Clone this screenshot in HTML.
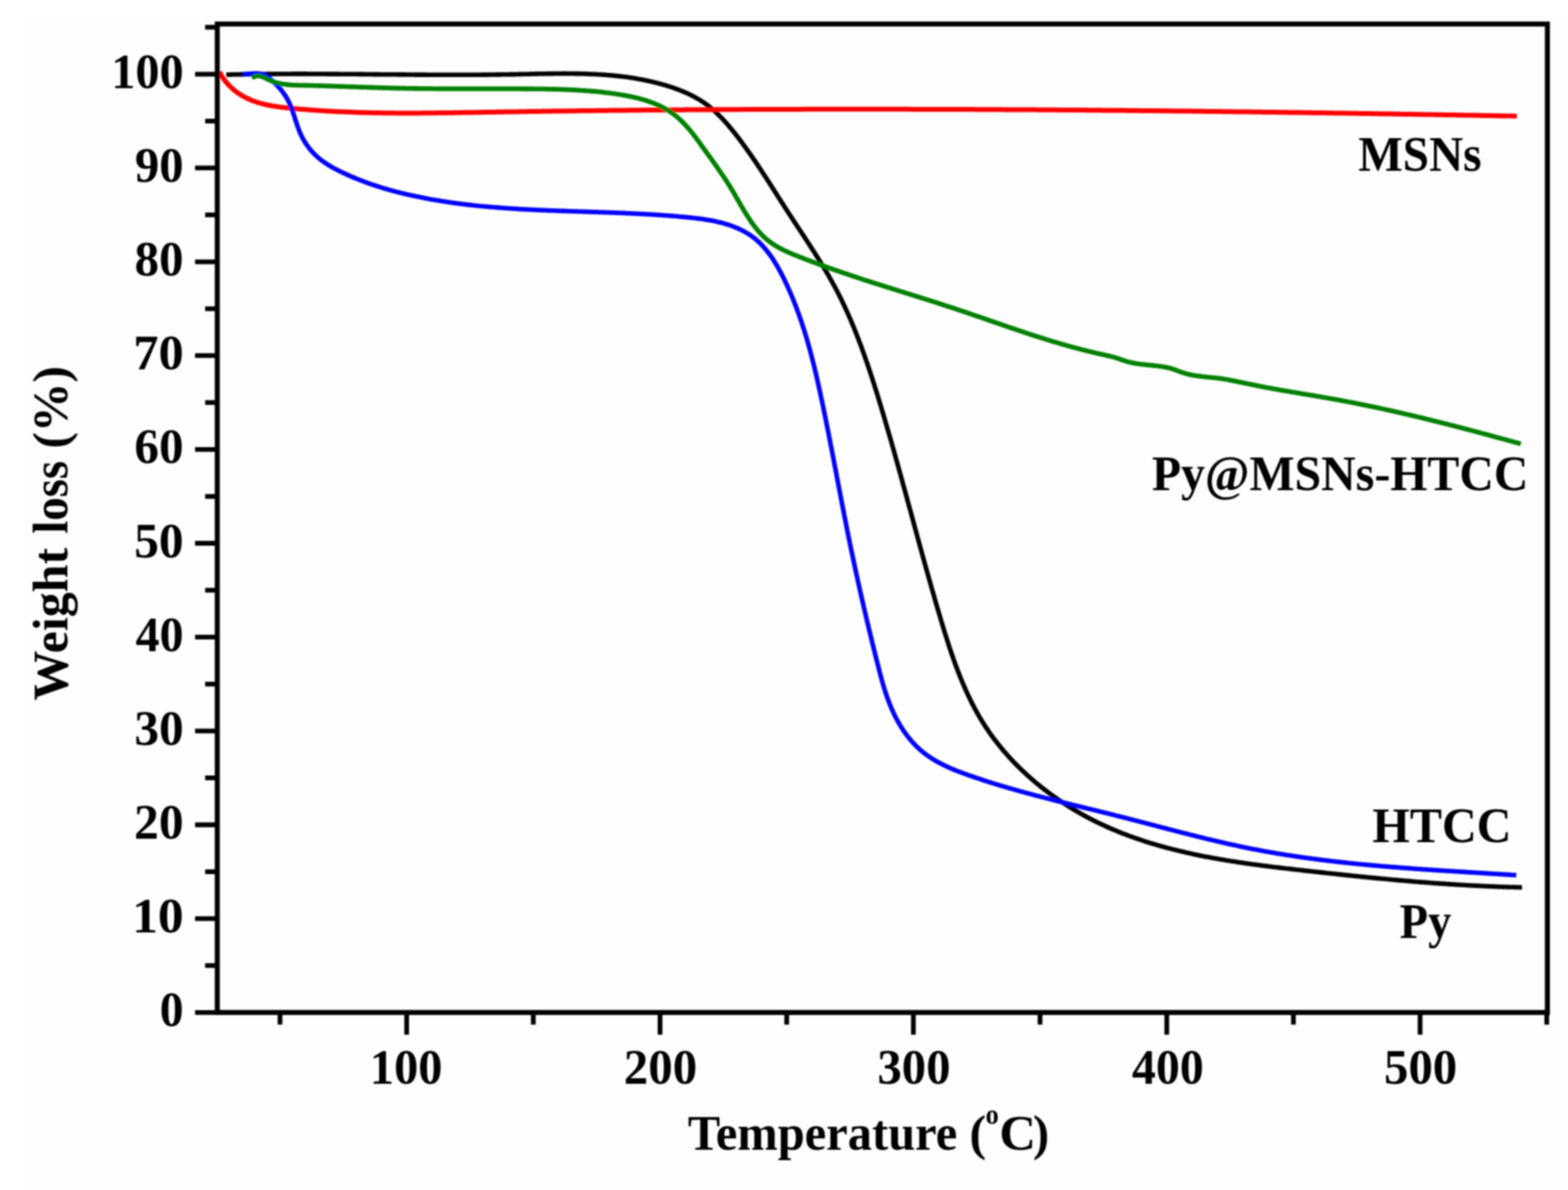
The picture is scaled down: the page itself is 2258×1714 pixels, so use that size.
<!DOCTYPE html>
<html lang="en">
<head>
<meta charset="utf-8">
<title>TGA curves: weight loss vs temperature</title>
<style>
html,body{margin:0;padding:0;background:#fff;}
body{width:2258px;height:1714px;overflow:hidden;}
svg{display:block;}
text{font-family:"Liberation Serif","Times New Roman",serif;font-weight:bold;fill:#000;}
</style>
</head>
<body>
<svg xmlns="http://www.w3.org/2000/svg" width="2258" height="1714" viewBox="0 0 2258 1714">
<defs><filter id="soft" x="0" y="0" width="2258" height="1714" filterUnits="userSpaceOnUse"><feGaussianBlur stdDeviation="0.9"/></filter></defs>
<rect x="0" y="0" width="2258" height="1714" fill="#ffffff"/>
<rect x="36" y="21" width="2222" height="1693" fill="#fefefe"/>
<g filter="url(#soft)">
<g fill="none" stroke-linecap="butt" stroke-linejoin="round">
<path d="M325.9,107.6 L328.5,107.5 L331.0,107.5 L333.5,107.4 L336.0,107.3 L338.5,107.3 L341.0,107.2 L343.5,107.2 L346.0,107.1 L348.5,107.1 L351.0,107.1 L353.5,107.0 L356.1,107.0 L358.6,106.9 L361.1,106.9 L363.6,106.9 L366.1,106.8 L368.6,106.8 L371.1,106.8 L373.6,106.7 L376.1,106.7 L378.6,106.7 L381.1,106.7 L383.6,106.6 L386.1,106.6 L388.6,106.6 L391.1,106.6 L393.6,106.6 L396.1,106.5 L398.6,106.5 L401.1,106.5 L403.6,106.5 L406.1,106.5 L408.6,106.5 L411.1,106.5 L413.6,106.5 L416.1,106.5 L418.6,106.5 L421.1,106.4 L423.6,106.4 L426.0,106.4 L428.5,106.4 L431.0,106.4 L433.5,106.4 L436.0,106.4 L438.5,106.4 L441.0,106.4 L443.5,106.5 L446.0,106.5 L448.5,106.5 L451.0,106.5 L453.5,106.5 L456.0,106.5 L458.5,106.5 L460.9,106.5 L463.4,106.5 L465.9,106.5 L468.4,106.5 L470.9,106.6 L473.4,106.6 L475.9,106.6 L478.4,106.6 L480.9,106.6 L483.4,106.6 L485.8,106.6 L488.3,106.7 L490.8,106.7 L493.3,106.7 L495.8,106.7 L498.3,106.7 L500.8,106.8 L503.3,106.8 L505.8,106.8 L508.2,106.8 L510.7,106.8 L513.2,106.8 L515.7,106.9 L518.2,106.9 L520.7,106.9 L523.2,106.9 L525.7,107.0 L528.2,107.0 L530.6,107.0 L533.1,107.0 L535.6,107.0 L538.1,107.1 L540.6,107.1 L543.1,107.1 L545.6,107.1 L548.1,107.2 L550.5,107.2 L553.0,107.2 L555.5,107.2 L558.0,107.2 L560.5,107.3 L563.0,107.3 L565.5,107.3 L568.0,107.3 L570.5,107.3 L573.0,107.4 L575.4,107.4 L577.9,107.4 L580.4,107.4 L582.9,107.4 L585.4,107.5 L587.9,107.5 L590.4,107.5 L592.9,107.5 L595.4,107.5 L597.9,107.6 L600.4,107.6 L602.9,107.6 L605.3,107.6 L607.8,107.6 L610.3,107.6 L612.8,107.6 L615.3,107.7 L617.8,107.7 L620.3,107.7 L622.8,107.7 L625.3,107.7 L627.8,107.7 L630.3,107.7 L632.8,107.7 L635.3,107.7 L637.8,107.8 L640.3,107.8 L642.8,107.8 L645.3,107.8 L647.8,107.8 L650.3,107.8 L652.8,107.8 L655.3,107.8 L657.8,107.8 L660.3,107.8 L662.8,107.8 L665.3,107.8 L667.8,107.8 L670.3,107.8 L672.8,107.7 L675.3,107.7 L677.8,107.7 L680.3,107.7 L682.8,107.7 L685.3,107.7 L687.8,107.7 L690.3,107.7 L692.8,107.6 L695.3,107.6 L697.8,107.6 L700.3,107.6 L702.9,107.6 L705.4,107.5 L707.9,107.5 L710.4,107.5 L712.9,107.5 L715.4,107.4 L717.9,107.4 L720.4,107.4 L723.0,107.3 L725.5,107.3 L728.0,107.3 L730.5,107.2 L733.0,107.2 L735.5,107.1 L738.0,107.1 L740.6,107.1 L743.1,107.0 L745.6,107.0 L748.1,106.9 L750.6,106.9 L753.2,106.8 L755.7,106.8 L758.2,106.7 L760.7,106.7 L763.3,106.6 L765.8,106.5 L768.3,106.5 L770.8,106.4 L773.4,106.4 L775.9,106.3 L778.4,106.3 L780.9,106.3 L783.4,106.2 L786.0,106.2 L788.5,106.1 L791.0,106.1 L793.5,106.1 L796.1,106.0 L798.6,106.0 L801.1,106.0 L803.6,106.0 L806.1,106.0 L808.7,106.0 L811.2,105.9 L813.7,105.9 L816.2,106.0 L818.7,106.0 L821.2,106.0 L823.7,106.0 L826.3,106.0 L828.8,106.1 L831.3,106.1 L833.8,106.1 L836.3,106.2 L838.8,106.3 L841.3,106.3 L843.8,106.4 L846.3,106.5 L848.8,106.6 L851.3,106.7 L853.8,106.8 L856.3,106.9 L858.8,107.0 L861.2,107.2 L863.7,107.3 L866.2,107.5 L868.7,107.6 L871.2,107.8 L873.7,108.0 L876.1,108.2 L878.6,108.4 L881.1,108.6 L883.5,108.9 L886.0,109.1 L888.5,109.4 L890.9,109.6 L893.4,109.9 L895.9,110.2 L898.3,110.5 L900.8,110.8 L903.2,111.1 L905.6,111.5 L908.1,111.8 L910.5,112.2 L913.0,112.6 L915.4,113.0 L917.8,113.4 L920.2,113.9 L922.7,114.3 L925.1,114.8 L927.5,115.2 L929.9,115.7 L932.3,116.2 L934.7,116.8 L937.1,117.3 L939.5,117.9 L941.9,118.4 L944.3,119.0 L946.7,119.6 L949.1,120.3 L951.4,120.9 L953.8,121.6 L956.2,122.2 L958.5,122.9 L960.9,123.7 L963.2,124.4 L965.6,125.2 L967.9,125.9 L970.3,126.7 L972.6,127.6 L974.9,128.4 L977.2,129.3 L979.6,130.2 L981.8,131.1 L984.1,132.0 L986.4,133.0 L988.6,134.0 L990.9,135.0 L993.1,136.1 L995.3,137.1 L997.5,138.3 L999.7,139.4 L1001.8,140.6 L1004.0,141.8 L1006.1,143.0 L1008.2,144.3 L1010.3,145.6 L1012.3,147.0 L1014.3,148.3 L1016.3,149.7 L1018.3,151.2 L1020.3,152.7 L1022.2,154.2 L1024.1,155.8 L1026.0,157.4 L1027.9,159.0 L1029.7,160.6 L1031.5,162.3 L1033.3,164.0 L1035.1,165.8 L1036.8,167.5 L1038.6,169.3 L1040.3,171.1 L1042.0,172.9 L1043.7,174.8 L1045.4,176.7 L1047.0,178.5 L1048.7,180.4 L1050.3,182.4 L1051.9,184.3 L1053.5,186.2 L1055.1,188.2 L1056.7,190.2 L1058.3,192.1 L1059.8,194.1 L1061.4,196.1 L1062.9,198.1 L1064.4,200.1 L1065.9,202.1 L1067.5,204.1 L1069.0,206.2 L1070.4,208.2 L1071.9,210.2 L1073.4,212.2 L1074.9,214.3 L1076.3,216.3 L1077.8,218.4 L1079.2,220.4 L1080.7,222.5 L1082.1,224.5 L1083.5,226.6 L1084.9,228.7 L1086.4,230.7 L1087.8,232.8 L1089.2,234.9 L1090.6,237.0 L1092.0,239.0 L1093.3,241.1 L1094.7,243.2 L1096.1,245.3 L1097.5,247.4 L1098.8,249.5 L1100.2,251.6 L1101.6,253.7 L1102.9,255.7 L1104.3,257.8 L1105.6,259.9 L1107.0,262.0 L1108.3,264.1 L1109.6,266.2 L1111.0,268.3 L1112.3,270.4 L1113.7,272.5 L1115.0,274.6 L1116.3,276.7 L1117.7,278.8 L1119.0,280.9 L1120.3,283.0 L1121.6,285.0 L1123.0,287.1 L1124.3,289.2 L1125.6,291.3 L1127.0,293.4 L1128.3,295.4 L1129.6,297.5 L1130.9,299.6 L1132.3,301.6 L1133.6,303.7 L1134.9,305.8 L1136.3,307.8 L1137.6,309.9 L1139.0,311.9 L1140.3,314.0 L1141.6,316.0 L1143.0,318.1 L1144.3,320.1 L1145.7,322.1 L1147.0,324.2 L1148.3,326.2 L1149.7,328.2 L1151.0,330.3 L1152.4,332.3 L1153.7,334.3 L1155.0,336.4 L1156.4,338.4 L1157.7,340.4 L1159.0,342.4 L1160.4,344.5 L1161.7,346.5 L1163.0,348.5 L1164.4,350.6 L1165.7,352.6 L1167.0,354.6 L1168.3,356.7 L1169.6,358.7 L1170.9,360.7 L1172.2,362.8 L1173.5,364.8 L1174.8,366.9 L1176.1,368.9 L1177.4,371.0 L1178.7,373.0 L1180.0,375.1 L1181.2,377.1 L1182.5,379.2 L1183.8,381.3 L1185.0,383.3 L1186.3,385.4 L1187.5,387.5 L1188.8,389.6 L1190.0,391.7 L1191.2,393.7 L1192.5,395.8 L1193.7,397.9 L1194.9,400.1 L1196.1,402.2 L1197.3,404.3 L1198.5,406.4 L1199.6,408.6 L1200.8,410.7 L1202.0,412.8 L1203.1,415.0 L1204.3,417.2 L1205.4,419.3 L1206.5,421.5 L1207.7,423.7 L1208.8,425.9 L1209.9,428.1 L1211.0,430.3 L1212.0,432.5 L1213.1,434.7 L1214.2,436.9 L1215.2,439.2 L1216.3,441.4 L1217.3,443.7 L1218.4,445.9 L1219.4,448.2 L1220.4,450.4 L1221.4,452.7 L1222.4,455.0 L1223.4,457.3 L1224.4,459.5 L1225.4,461.8 L1226.4,464.1 L1227.3,466.4 L1228.3,468.8 L1229.3,471.1 L1230.2,473.4 L1231.1,475.7 L1232.1,478.0 L1233.0,480.4 L1233.9,482.7 L1234.8,485.0 L1235.7,487.4 L1236.6,489.7 L1237.5,492.1 L1238.4,494.5 L1239.3,496.8 L1240.2,499.2 L1241.1,501.5 L1241.9,503.9 L1242.8,506.3 L1243.6,508.7 L1244.5,511.1 L1245.3,513.4 L1246.2,515.8 L1247.0,518.2 L1247.8,520.6 L1248.7,523.0 L1249.5,525.4 L1250.3,527.8 L1251.1,530.2 L1251.9,532.6 L1252.7,535.0 L1253.5,537.4 L1254.3,539.8 L1255.1,542.2 L1255.9,544.6 L1256.7,547.1 L1257.4,549.5 L1258.2,551.9 L1259.0,554.3 L1259.7,556.7 L1260.5,559.1 L1261.3,561.6 L1262.0,564.0 L1262.8,566.4 L1263.5,568.8 L1264.3,571.2 L1265.0,573.7 L1265.7,576.1 L1266.5,578.5 L1267.2,580.9 L1267.9,583.3 L1268.7,585.7 L1269.4,588.2 L1270.1,590.6 L1270.8,593.0 L1271.6,595.4 L1272.3,597.8 L1273.0,600.2 L1273.7,602.6 L1274.4,605.1 L1275.1,607.5 L1275.8,609.9 L1276.5,612.3 L1277.2,614.7 L1277.9,617.1 L1278.6,619.5 L1279.3,621.9 L1280.0,624.3 L1280.7,626.7 L1281.4,629.1 L1282.1,631.5 L1282.8,633.9 L1283.5,636.3 L1284.2,638.7 L1284.8,641.1 L1285.5,643.5 L1286.2,645.9 L1286.9,648.3 L1287.6,650.7 L1288.2,653.1 L1288.9,655.5 L1289.6,657.9 L1290.2,660.3 L1290.9,662.7 L1291.6,665.1 L1292.3,667.5 L1292.9,669.9 L1293.6,672.3 L1294.2,674.7 L1294.9,677.1 L1295.6,679.5 L1296.2,681.9 L1296.9,684.2 L1297.6,686.6 L1298.2,689.0 L1298.9,691.4 L1299.5,693.8 L1300.2,696.2 L1300.8,698.6 L1301.5,701.0 L1302.1,703.4 L1302.8,705.8 L1303.5,708.1 L1304.1,710.5 L1304.8,712.9 L1305.4,715.3 L1306.1,717.7 L1306.7,720.1 L1307.4,722.5 L1308.0,724.9 L1308.7,727.3 L1309.3,729.6 L1310.0,732.0 L1310.6,734.4 L1311.3,736.8 L1311.9,739.2 L1312.6,741.6 L1313.2,744.0 L1313.9,746.4 L1314.5,748.7 L1315.2,751.1 L1315.8,753.5 L1316.5,755.9 L1317.1,758.3 L1317.8,760.7 L1318.4,763.1 L1319.1,765.5 L1319.7,767.8 L1320.4,770.2 L1321.0,772.6 L1321.7,775.0 L1322.3,777.4 L1323.0,779.8 L1323.6,782.2 L1324.3,784.6 L1324.9,787.0 L1325.6,789.3 L1326.2,791.7 L1326.9,794.1 L1327.6,796.5 L1328.2,798.9 L1328.9,801.3 L1329.5,803.7 L1330.2,806.1 L1330.9,808.5 L1331.5,810.9 L1332.2,813.3 L1332.9,815.7 L1333.5,818.1 L1334.2,820.5 L1334.9,822.8 L1335.5,825.2 L1336.2,827.6 L1336.9,830.0 L1337.5,832.4 L1338.2,834.8 L1338.9,837.2 L1339.6,839.6 L1340.3,842.0 L1340.9,844.4 L1341.6,846.8 L1342.3,849.2 L1343.0,851.6 L1343.7,854.0 L1344.4,856.4 L1345.1,858.8 L1345.7,861.2 L1346.4,863.6 L1347.1,866.1 L1347.8,868.5 L1348.5,870.9 L1349.2,873.3 L1349.9,875.7 L1350.6,878.1 L1351.4,880.5 L1352.1,882.9 L1352.8,885.3 L1353.5,887.7 L1354.2,890.2 L1354.9,892.6 L1355.6,895.0 L1356.4,897.4 L1357.1,899.8 L1357.8,902.2 L1358.6,904.6 L1359.3,907.1 L1360.0,909.5 L1360.8,911.9 L1361.5,914.3 L1362.3,916.7 L1363.1,919.1 L1363.8,921.5 L1364.6,923.9 L1365.4,926.4 L1366.1,928.8 L1366.9,931.2 L1367.7,933.6 L1368.5,936.0 L1369.3,938.4 L1370.1,940.7 L1370.9,943.1 L1371.8,945.5 L1372.6,947.9 L1373.4,950.3 L1374.3,952.7 L1375.1,955.0 L1376.0,957.4 L1376.9,959.8 L1377.8,962.1 L1378.6,964.5 L1379.5,966.8 L1380.5,969.2 L1381.4,971.5 L1382.3,973.9 L1383.2,976.2 L1384.2,978.5 L1385.1,980.9 L1386.1,983.2 L1387.1,985.5 L1388.1,987.8 L1389.1,990.1 L1390.1,992.4 L1391.1,994.7 L1392.1,996.9 L1393.2,999.2 L1394.2,1001.5 L1395.3,1003.7 L1396.4,1006.0 L1397.5,1008.2 L1398.6,1010.5 L1399.7,1012.7 L1400.8,1014.9 L1402.0,1017.1 L1403.1,1019.3 L1404.3,1021.5 L1405.5,1023.7 L1406.7,1025.9 L1407.9,1028.0 L1409.1,1030.2 L1410.4,1032.4 L1411.6,1034.5 L1412.9,1036.6 L1414.2,1038.7 L1415.5,1040.8 L1416.8,1042.9 L1418.2,1045.0 L1419.5,1047.1 L1420.9,1049.2 L1422.3,1051.2 L1423.7,1053.3 L1425.1,1055.3 L1426.5,1057.4 L1428.0,1059.4 L1429.4,1061.4 L1430.9,1063.4 L1432.4,1065.4 L1433.9,1067.3 L1435.4,1069.3 L1437.0,1071.3 L1438.5,1073.2 L1440.1,1075.1 L1441.6,1077.1 L1443.2,1079.0 L1444.8,1080.9 L1446.4,1082.8 L1448.1,1084.6 L1449.7,1086.5 L1451.4,1088.4 L1453.0,1090.2 L1454.7,1092.0 L1456.4,1093.9 L1458.1,1095.7 L1459.8,1097.5 L1461.5,1099.3 L1463.3,1101.1 L1465.0,1102.8 L1466.8,1104.6 L1468.6,1106.3 L1470.3,1108.1 L1472.1,1109.8 L1474.0,1111.5 L1475.8,1113.2 L1477.6,1114.9 L1479.4,1116.6 L1481.3,1118.3 L1483.2,1119.9 L1485.0,1121.6 L1486.9,1123.2 L1488.8,1124.8 L1490.7,1126.4 L1492.6,1128.1 L1494.6,1129.6 L1496.5,1131.2 L1498.5,1132.8 L1500.4,1134.3 L1502.4,1135.9 L1504.3,1137.4 L1506.3,1138.9 L1508.3,1140.4 L1510.3,1141.9 L1512.3,1143.4 L1514.4,1144.9 L1516.4,1146.4 L1518.4,1147.8 L1520.5,1149.3 L1522.5,1150.7 L1524.6,1152.1 L1526.6,1153.5 L1528.7,1154.9 L1530.8,1156.3 L1532.9,1157.6 L1535.0,1159.0 L1537.1,1160.3 L1539.2,1161.7 L1541.3,1163.0 L1543.5,1164.3 L1545.6,1165.6 L1547.7,1166.9 L1549.9,1168.1 L1552.1,1169.4 L1554.2,1170.6 L1556.4,1171.9 L1558.6,1173.1 L1560.7,1174.3 L1562.9,1175.5 L1565.1,1176.7 L1567.3,1177.8 L1569.5,1179.0 L1571.7,1180.1 L1573.9,1181.3 L1576.2,1182.4 L1578.4,1183.5 L1580.6,1184.6 L1582.9,1185.7 L1585.1,1186.7 L1587.3,1187.8 L1589.6,1188.8 L1591.8,1189.9 L1594.1,1190.9 L1596.4,1191.9 L1598.6,1192.9 L1600.9,1193.9 L1603.2,1194.9 L1605.5,1195.8 L1607.8,1196.8 L1610.0,1197.7 L1612.3,1198.6 L1614.6,1199.6 L1616.9,1200.5 L1619.2,1201.4 L1621.6,1202.2 L1623.9,1203.1 L1626.2,1204.0 L1628.5,1204.8 L1630.9,1205.7 L1633.2,1206.5 L1635.5,1207.3 L1637.9,1208.1 L1640.2,1208.9 L1642.6,1209.7 L1644.9,1210.5 L1647.3,1211.3 L1649.6,1212.1 L1652.0,1212.8 L1654.4,1213.6 L1656.7,1214.3 L1659.1,1215.0 L1661.5,1215.7 L1663.9,1216.4 L1666.2,1217.1 L1668.6,1217.8 L1671.0,1218.5 L1673.4,1219.2 L1675.8,1219.8 L1678.2,1220.5 L1680.6,1221.1 L1683.0,1221.8 L1685.4,1222.4 L1687.8,1223.0 L1690.2,1223.6 L1692.7,1224.2 L1695.1,1224.8 L1697.5,1225.4 L1699.9,1226.0 L1702.4,1226.6 L1704.8,1227.1 L1707.2,1227.7 L1709.7,1228.3 L1712.1,1228.8 L1714.5,1229.3 L1717.0,1229.9 L1719.4,1230.4 L1721.9,1230.9 L1724.3,1231.4 L1726.8,1231.9 L1729.2,1232.4 L1731.7,1232.9 L1734.1,1233.4 L1736.6,1233.9 L1739.0,1234.3 L1741.5,1234.8 L1744.0,1235.3 L1746.4,1235.7 L1748.9,1236.2 L1751.4,1236.6 L1753.8,1237.1 L1756.3,1237.5 L1758.8,1237.9 L1761.3,1238.3 L1763.7,1238.7 L1766.2,1239.2 L1768.7,1239.6 L1771.2,1240.0 L1773.7,1240.4 L1776.2,1240.8 L1778.6,1241.1 L1781.1,1241.5 L1783.6,1241.9 L1786.1,1242.3 L1788.6,1242.6 L1791.1,1243.0 L1793.6,1243.4 L1796.1,1243.7 L1798.6,1244.1 L1801.1,1244.4 L1803.5,1244.8 L1806.0,1245.1 L1808.5,1245.4 L1811.0,1245.8 L1813.5,1246.1 L1816.0,1246.4 L1818.5,1246.8 L1821.0,1247.1 L1823.5,1247.4 L1826.0,1247.7 L1828.5,1248.0 L1831.0,1248.4 L1833.5,1248.7 L1836.0,1249.0 L1838.5,1249.3 L1841.0,1249.6 L1843.5,1249.9 L1846.0,1250.2 L1848.5,1250.5 L1851.0,1250.8 L1853.5,1251.0 L1856.0,1251.3 L1858.5,1251.6 L1861.0,1251.9 L1863.5,1252.2 L1866.0,1252.5 L1868.5,1252.8 L1871.0,1253.0 L1873.5,1253.3 L1876.0,1253.6 L1878.4,1253.9 L1880.9,1254.2 L1883.4,1254.4 L1885.9,1254.7 L1888.4,1255.0 L1890.9,1255.3 L1893.4,1255.6 L1895.9,1255.8 L1898.4,1256.1 L1900.8,1256.4 L1903.3,1256.6 L1905.8,1256.9 L1908.3,1257.2 L1910.8,1257.5 L1913.3,1257.7 L1915.7,1258.0 L1918.2,1258.3 L1920.7,1258.5 L1923.2,1258.8 L1925.7,1259.1 L1928.1,1259.3 L1930.6,1259.6 L1933.1,1259.9 L1935.6,1260.1 L1938.1,1260.4 L1940.5,1260.6 L1943.0,1260.9 L1945.5,1261.2 L1948.0,1261.4 L1950.4,1261.7 L1952.9,1261.9 L1955.4,1262.2 L1957.9,1262.4 L1960.3,1262.7 L1962.8,1262.9 L1965.3,1263.2 L1967.7,1263.4 L1970.2,1263.7 L1972.7,1263.9 L1975.2,1264.2 L1977.6,1264.4 L1980.1,1264.6 L1982.6,1264.9 L1985.0,1265.1 L1987.5,1265.3 L1990.0,1265.6 L1992.5,1265.8 L1994.9,1266.0 L1997.4,1266.3 L1999.9,1266.5 L2002.3,1266.7 L2004.8,1267.0 L2007.3,1267.2 L2009.8,1267.4 L2012.2,1267.6 L2014.7,1267.9 L2017.2,1268.1 L2019.6,1268.3 L2022.1,1268.5 L2024.6,1268.7 L2027.1,1268.9 L2029.5,1269.1 L2032.0,1269.3 L2034.5,1269.6 L2037.0,1269.8 L2039.4,1270.0 L2041.9,1270.2 L2044.4,1270.4 L2046.9,1270.6 L2049.3,1270.8 L2051.8,1270.9 L2054.3,1271.1 L2056.8,1271.3 L2059.2,1271.5 L2061.7,1271.7 L2064.2,1271.9 L2066.7,1272.1 L2069.2,1272.2 L2071.6,1272.4 L2074.1,1272.6 L2076.6,1272.8 L2079.1,1272.9 L2081.6,1273.1 L2084.0,1273.3 L2086.5,1273.4 L2089.0,1273.6 L2091.5,1273.8 L2094.0,1273.9 L2096.5,1274.1 L2099.0,1274.2 L2101.4,1274.4 L2103.9,1274.5 L2106.4,1274.7 L2108.9,1274.8 L2111.4,1275.0 L2113.9,1275.1 L2116.4,1275.3 L2118.9,1275.4 L2121.4,1275.5 L2123.9,1275.6 L2126.4,1275.8 L2128.9,1275.9 L2131.4,1276.0 L2133.9,1276.1 L2136.4,1276.3 L2138.9,1276.4 L2141.4,1276.5 L2143.9,1276.6 L2146.4,1276.7 L2148.9,1276.8 L2151.4,1276.9 L2153.9,1277.0 L2156.4,1277.1 L2158.9,1277.2 L2161.4,1277.3 L2164.0,1277.4 L2166.5,1277.5 L2169.0,1277.5 L2171.5,1277.6 L2174.0,1277.7 L2176.5,1277.8 L2179.1,1277.8 L2181.6,1277.9 L2184.1,1278.0 L2186.6,1278.0 L2189.2,1278.1 L2191.7,1278.1" stroke="#000000" stroke-width="6.6"/>
<path d="M315.8,103.4 L317.1,105.8 L318.5,108.1 L319.9,110.4 L321.3,112.5 L322.8,114.6 L324.4,116.7 L326.0,118.7 L327.7,120.6 L329.4,122.5 L331.1,124.3 L332.9,126.0 L334.8,127.7 L336.6,129.3 L338.6,130.9 L340.5,132.4 L342.5,133.8 L344.6,135.2 L346.6,136.5 L348.7,137.8 L350.9,139.0 L353.0,140.2 L355.2,141.3 L357.4,142.3 L359.6,143.3 L361.9,144.3 L364.2,145.2 L366.5,146.0 L368.8,146.8 L371.1,147.6 L373.5,148.3 L375.8,148.9 L378.2,149.6 L380.6,150.2 L383.0,150.7 L385.4,151.2 L387.9,151.7 L390.3,152.2 L392.8,152.6 L395.3,153.0 L397.7,153.4 L400.2,153.8 L402.7,154.1 L405.2,154.4 L407.7,154.7 L410.2,155.0 L412.7,155.3 L415.2,155.5 L417.8,155.8 L420.3,156.0 L422.8,156.3 L425.3,156.5 L427.8,156.7 L430.3,156.9 L432.8,157.2 L435.4,157.4 L437.9,157.6 L440.4,157.8 L442.9,158.0 L445.4,158.2 L447.9,158.4 L450.4,158.6 L452.9,158.7 L455.4,158.9 L458.0,159.1 L460.5,159.3 L463.0,159.4 L465.5,159.6 L468.0,159.7 L470.5,159.9 L473.0,160.0 L475.5,160.2 L478.0,160.3 L480.5,160.4 L483.0,160.6 L485.5,160.7 L488.0,160.8 L490.6,160.9 L493.1,161.0 L495.6,161.1 L498.1,161.2 L500.6,161.3 L503.1,161.4 L505.6,161.5 L508.1,161.6 L510.6,161.7 L513.1,161.8 L515.6,161.9 L518.1,161.9 L520.6,162.0 L523.1,162.1 L525.6,162.2 L528.1,162.2 L530.6,162.3 L533.1,162.3 L535.6,162.4 L538.1,162.4 L540.6,162.5 L543.1,162.5 L545.6,162.6 L548.1,162.6 L550.6,162.7 L553.1,162.7 L555.6,162.7 L558.1,162.7 L560.6,162.8 L563.1,162.8 L565.6,162.8 L568.1,162.8 L570.6,162.9 L573.1,162.9 L575.6,162.9 L578.1,162.9 L580.6,162.9 L583.1,162.9 L585.6,162.9 L588.1,162.9 L590.6,162.9 L593.1,162.9 L595.6,162.9 L598.1,162.9 L600.6,162.9 L603.0,162.9 L605.5,162.9 L608.0,162.8 L610.5,162.8 L613.0,162.8 L615.5,162.8 L618.0,162.8 L620.5,162.7 L623.0,162.7 L625.5,162.7 L628.0,162.7 L630.5,162.6 L633.0,162.6 L635.5,162.6 L638.0,162.6 L640.5,162.5 L643.0,162.5 L645.5,162.5 L648.0,162.4 L650.5,162.4 L652.9,162.4 L655.4,162.3 L657.9,162.3 L660.4,162.2 L662.9,162.2 L665.4,162.2 L667.9,162.1 L670.4,162.1 L672.9,162.0 L675.4,162.0 L677.9,162.0 L680.4,161.9 L682.9,161.9 L685.4,161.8 L687.9,161.8 L690.4,161.7 L692.8,161.7 L695.3,161.7 L697.8,161.6 L700.3,161.6 L702.8,161.5 L705.3,161.5 L707.8,161.5 L710.3,161.4 L712.8,161.4 L715.3,161.3 L717.8,161.3 L720.3,161.2 L722.8,161.2 L725.3,161.2 L727.8,161.1 L730.3,161.1 L732.8,161.0 L735.3,161.0 L737.7,161.0 L740.2,160.9 L742.7,160.9 L745.2,160.9 L747.7,160.8 L750.2,160.8 L752.7,160.7 L755.2,160.7 L757.7,160.7 L760.2,160.6 L762.7,160.6 L765.2,160.6 L767.7,160.5 L770.2,160.5 L772.7,160.4 L775.2,160.4 L777.7,160.4 L780.2,160.3 L782.7,160.3 L785.2,160.3 L787.6,160.2 L790.1,160.2 L792.6,160.2 L795.1,160.1 L797.6,160.1 L800.1,160.1 L802.6,160.0 L805.1,160.0 L807.6,160.0 L810.1,159.9 L812.6,159.9 L815.1,159.9 L817.6,159.8 L820.1,159.8 L822.6,159.8 L825.1,159.7 L827.6,159.7 L830.1,159.7 L832.6,159.6 L835.1,159.6 L837.6,159.6 L840.1,159.6 L842.6,159.5 L845.1,159.5 L847.5,159.5 L850.0,159.4 L852.5,159.4 L855.0,159.4 L857.5,159.3 L860.0,159.3 L862.5,159.3 L865.0,159.3 L867.5,159.2 L870.0,159.2 L872.5,159.2 L875.0,159.2 L877.5,159.1 L880.0,159.1 L882.5,159.1 L885.0,159.0 L887.5,159.0 L890.0,159.0 L892.5,159.0 L895.0,158.9 L897.5,158.9 L900.0,158.9 L902.5,158.9 L905.0,158.8 L907.5,158.8 L910.0,158.8 L912.5,158.8 L915.0,158.7 L917.5,158.7 L919.9,158.7 L922.4,158.7 L924.9,158.6 L927.4,158.6 L929.9,158.6 L932.4,158.6 L934.9,158.6 L937.4,158.5 L939.9,158.5 L942.4,158.5 L944.9,158.5 L947.4,158.5 L949.9,158.4 L952.4,158.4 L954.9,158.4 L957.4,158.4 L959.9,158.3 L962.4,158.3 L964.9,158.3 L967.4,158.3 L969.9,158.3 L972.4,158.2 L974.9,158.2 L977.4,158.2 L979.9,158.2 L982.4,158.2 L984.9,158.2 L987.4,158.1 L989.9,158.1 L992.4,158.1 L994.9,158.1 L997.4,158.1 L999.9,158.0 L1002.4,158.0 L1004.9,158.0 L1007.4,158.0 L1009.9,158.0 L1012.4,158.0 L1014.9,157.9 L1017.4,157.9 L1019.9,157.9 L1022.3,157.9 L1024.8,157.9 L1027.3,157.9 L1029.8,157.9 L1032.3,157.8 L1034.8,157.8 L1037.3,157.8 L1039.8,157.8 L1042.3,157.8 L1044.8,157.8 L1047.3,157.8 L1049.8,157.7 L1052.3,157.7 L1054.8,157.7 L1057.3,157.7 L1059.8,157.7 L1062.3,157.7 L1064.8,157.7 L1067.3,157.7 L1069.8,157.6 L1072.3,157.6 L1074.8,157.6 L1077.3,157.6 L1079.8,157.6 L1082.3,157.6 L1084.8,157.6 L1087.3,157.6 L1089.8,157.6 L1092.3,157.5 L1094.8,157.5 L1097.3,157.5 L1099.8,157.5 L1102.3,157.5 L1104.8,157.5 L1107.3,157.5 L1109.8,157.5 L1112.3,157.5 L1114.8,157.5 L1117.3,157.5 L1119.8,157.4 L1122.3,157.4 L1124.8,157.4 L1127.3,157.4 L1129.8,157.4 L1132.3,157.4 L1134.8,157.4 L1137.3,157.4 L1139.8,157.4 L1142.3,157.4 L1144.8,157.4 L1147.3,157.4 L1149.8,157.4 L1152.3,157.4 L1154.8,157.4 L1157.3,157.3 L1159.8,157.3 L1162.3,157.3 L1164.8,157.3 L1167.3,157.3 L1169.8,157.3 L1172.3,157.3 L1174.8,157.3 L1177.3,157.3 L1179.8,157.3 L1182.3,157.3 L1184.8,157.3 L1187.3,157.3 L1189.8,157.3 L1192.3,157.3 L1194.8,157.3 L1197.3,157.3 L1199.8,157.3 L1202.3,157.3 L1204.8,157.3 L1207.3,157.3 L1209.8,157.3 L1212.3,157.3 L1214.8,157.3 L1217.3,157.3 L1219.8,157.3 L1222.3,157.3 L1224.8,157.3 L1227.3,157.3 L1229.8,157.3 L1232.3,157.3 L1234.8,157.3 L1237.3,157.3 L1239.8,157.3 L1242.3,157.3 L1244.8,157.3 L1247.3,157.3 L1249.8,157.3 L1252.3,157.3 L1254.8,157.3 L1257.3,157.3 L1259.8,157.3 L1262.3,157.3 L1264.8,157.3 L1267.3,157.3 L1269.8,157.3 L1272.3,157.3 L1274.8,157.3 L1277.3,157.3 L1279.8,157.3 L1282.3,157.3 L1284.8,157.3 L1287.3,157.3 L1289.8,157.3 L1292.3,157.3 L1294.7,157.3 L1297.2,157.3 L1299.7,157.3 L1302.2,157.3 L1304.7,157.3 L1307.2,157.3 L1309.7,157.3 L1312.2,157.4 L1314.7,157.4 L1317.2,157.4 L1319.7,157.4 L1322.2,157.4 L1324.7,157.4 L1327.2,157.4 L1329.7,157.4 L1332.2,157.4 L1334.7,157.4 L1337.2,157.4 L1339.7,157.4 L1342.2,157.4 L1344.7,157.4 L1347.2,157.4 L1349.7,157.4 L1352.2,157.5 L1354.7,157.5 L1357.2,157.5 L1359.7,157.5 L1362.2,157.5 L1364.7,157.5 L1367.2,157.5 L1369.7,157.5 L1372.2,157.5 L1374.8,157.5 L1377.3,157.5 L1379.8,157.6 L1382.3,157.6 L1384.8,157.6 L1387.3,157.6 L1389.8,157.6 L1392.3,157.6 L1394.8,157.6 L1397.3,157.6 L1399.8,157.6 L1402.3,157.6 L1404.8,157.7 L1407.3,157.7 L1409.8,157.7 L1412.3,157.7 L1414.8,157.7 L1417.3,157.7 L1419.8,157.7 L1422.3,157.7 L1424.8,157.7 L1427.3,157.8 L1429.8,157.8 L1432.3,157.8 L1434.8,157.8 L1437.3,157.8 L1439.8,157.8 L1442.3,157.8 L1444.8,157.9 L1447.3,157.9 L1449.8,157.9 L1452.3,157.9 L1454.8,157.9 L1457.3,157.9 L1459.8,157.9 L1462.3,157.9 L1464.8,158.0 L1467.3,158.0 L1469.8,158.0 L1472.3,158.0 L1474.8,158.0 L1477.3,158.0 L1479.8,158.1 L1482.3,158.1 L1484.8,158.1 L1487.3,158.1 L1489.8,158.1 L1492.3,158.1 L1494.8,158.2 L1497.3,158.2 L1499.8,158.2 L1502.3,158.2 L1504.8,158.2 L1507.3,158.2 L1509.8,158.3 L1512.3,158.3 L1514.8,158.3 L1517.3,158.3 L1519.8,158.3 L1522.3,158.3 L1524.8,158.4 L1527.3,158.4 L1529.8,158.4 L1532.3,158.4 L1534.8,158.4 L1537.3,158.5 L1539.8,158.5 L1542.3,158.5 L1544.8,158.5 L1547.3,158.5 L1549.8,158.5 L1552.3,158.6 L1554.8,158.6 L1557.3,158.6 L1559.8,158.6 L1562.3,158.6 L1564.8,158.7 L1567.3,158.7 L1569.8,158.7 L1572.3,158.7 L1574.8,158.7 L1577.3,158.8 L1579.8,158.8 L1582.3,158.8 L1584.8,158.8 L1587.3,158.9 L1589.8,158.9 L1592.3,158.9 L1594.8,158.9 L1597.3,158.9 L1599.8,159.0 L1602.3,159.0 L1604.8,159.0 L1607.3,159.0 L1609.8,159.1 L1612.3,159.1 L1614.8,159.1 L1617.3,159.1 L1619.8,159.1 L1622.3,159.2 L1624.8,159.2 L1627.3,159.2 L1629.8,159.2 L1632.3,159.3 L1634.8,159.3 L1637.3,159.3 L1639.8,159.3 L1642.3,159.4 L1644.8,159.4 L1647.3,159.4 L1649.8,159.4 L1652.3,159.5 L1654.8,159.5 L1657.3,159.5 L1659.8,159.5 L1662.3,159.6 L1664.8,159.6 L1667.3,159.6 L1669.8,159.6 L1672.3,159.7 L1674.8,159.7 L1677.3,159.7 L1679.8,159.7 L1682.3,159.8 L1684.8,159.8 L1687.3,159.8 L1689.8,159.9 L1692.3,159.9 L1694.8,159.9 L1697.3,159.9 L1699.8,160.0 L1702.3,160.0 L1704.8,160.0 L1707.3,160.0 L1709.8,160.1 L1712.3,160.1 L1714.8,160.1 L1717.3,160.2 L1719.8,160.2 L1722.3,160.2 L1724.8,160.2 L1727.3,160.3 L1729.8,160.3 L1732.3,160.3 L1734.8,160.4 L1737.3,160.4 L1739.8,160.4 L1742.3,160.4 L1744.8,160.5 L1747.3,160.5 L1749.8,160.5 L1752.3,160.6 L1754.8,160.6 L1757.3,160.6 L1759.8,160.7 L1762.3,160.7 L1764.8,160.7 L1767.3,160.7 L1769.8,160.8 L1772.3,160.8 L1774.8,160.8 L1777.3,160.9 L1779.8,160.9 L1782.3,160.9 L1784.8,161.0 L1787.3,161.0 L1789.8,161.0 L1792.3,161.1 L1794.8,161.1 L1797.3,161.1 L1799.8,161.1 L1802.3,161.2 L1804.8,161.2 L1807.3,161.2 L1809.8,161.3 L1812.3,161.3 L1814.8,161.3 L1817.3,161.4 L1819.8,161.4 L1822.3,161.4 L1824.8,161.5 L1827.3,161.5 L1829.8,161.5 L1832.3,161.6 L1834.8,161.6 L1837.2,161.6 L1839.7,161.7 L1842.2,161.7 L1844.7,161.7 L1847.2,161.8 L1849.7,161.8 L1852.2,161.8 L1854.7,161.9 L1857.2,161.9 L1859.7,162.0 L1862.2,162.0 L1864.7,162.0 L1867.2,162.1 L1869.7,162.1 L1872.2,162.1 L1874.7,162.2 L1877.2,162.2 L1879.7,162.2 L1882.2,162.3 L1884.7,162.3 L1887.2,162.3 L1889.7,162.4 L1892.2,162.4 L1894.7,162.4 L1897.2,162.5 L1899.7,162.5 L1902.2,162.6 L1904.7,162.6 L1907.2,162.6 L1909.7,162.7 L1912.2,162.7 L1914.7,162.7 L1917.2,162.8 L1919.7,162.8 L1922.2,162.9 L1924.7,162.9 L1927.2,162.9 L1929.7,163.0 L1932.2,163.0 L1934.7,163.0 L1937.2,163.1 L1939.7,163.1 L1942.2,163.2 L1944.7,163.2 L1947.2,163.2 L1949.7,163.3 L1952.2,163.3 L1954.7,163.3 L1957.2,163.4 L1959.7,163.4 L1962.2,163.5 L1964.7,163.5 L1967.2,163.5 L1969.7,163.6 L1972.2,163.6 L1974.7,163.7 L1977.2,163.7 L1979.7,163.7 L1982.2,163.8 L1984.7,163.8 L1987.2,163.9 L1989.7,163.9 L1992.2,163.9 L1994.7,164.0 L1997.2,164.0 L1999.7,164.1 L2002.2,164.1 L2004.7,164.1 L2007.2,164.2 L2009.6,164.2 L2012.1,164.3 L2014.6,164.3 L2017.1,164.3 L2019.6,164.4 L2022.1,164.4 L2024.6,164.5 L2027.1,164.5 L2029.6,164.5 L2032.1,164.6 L2034.6,164.6 L2037.1,164.7 L2039.6,164.7 L2042.1,164.8 L2044.6,164.8 L2047.1,164.8 L2049.6,164.9 L2052.1,164.9 L2054.6,165.0 L2057.1,165.0 L2059.6,165.0 L2062.1,165.1 L2064.6,165.1 L2067.1,165.2 L2069.6,165.2 L2072.1,165.3 L2074.6,165.3 L2077.1,165.3 L2079.6,165.4 L2082.1,165.4 L2084.6,165.5 L2087.1,165.5 L2089.6,165.6 L2092.1,165.6 L2094.6,165.6 L2097.1,165.7 L2099.6,165.7 L2102.0,165.8 L2104.5,165.8 L2107.0,165.9 L2109.5,165.9 L2112.0,166.0 L2114.5,166.0 L2117.0,166.0 L2119.5,166.1 L2122.0,166.1 L2124.5,166.2 L2127.0,166.2 L2129.5,166.3 L2132.0,166.3 L2134.5,166.4 L2137.0,166.4 L2139.5,166.4 L2142.0,166.5 L2144.5,166.5 L2147.0,166.6 L2149.5,166.6 L2152.0,166.7 L2154.5,166.7 L2157.0,166.8 L2159.5,166.8 L2162.0,166.9 L2164.5,166.9 L2167.0,166.9 L2169.5,167.0 L2171.9,167.0 L2174.4,167.1 L2176.9,167.1 L2179.4,167.2 L2181.9,167.2 L2184.4,167.3" stroke="#ff0000" stroke-width="7.0"/>
<path d="M349.8,106.8 L352.2,106.7 L354.7,106.6 L357.3,106.4 L359.9,106.2 L362.5,106.0 L365.1,105.9 L367.7,105.8 L370.2,105.8 L372.7,106.0 L375.1,106.4 L377.5,106.9 L379.7,107.7 L381.9,108.7 L383.9,109.9 L385.9,111.3 L387.9,112.7 L389.8,114.3 L391.7,115.9 L393.5,117.6 L395.3,119.4 L397.1,121.1 L398.9,123.0 L400.6,124.8 L402.3,126.7 L404.0,128.6 L405.6,130.6 L407.1,132.6 L408.6,134.7 L410.1,136.7 L411.5,138.8 L412.8,141.0 L414.0,143.2 L415.2,145.4 L416.3,147.6 L417.3,149.9 L418.3,152.2 L419.2,154.5 L420.1,156.8 L421.0,159.1 L421.8,161.5 L422.6,163.8 L423.4,166.2 L424.2,168.6 L424.9,171.0 L425.7,173.4 L426.5,175.7 L427.2,178.1 L428.0,180.5 L428.9,182.8 L429.7,185.2 L430.6,187.5 L431.5,189.8 L432.5,192.1 L433.5,194.4 L434.6,196.6 L435.7,198.8 L436.9,201.0 L438.2,203.2 L439.5,205.3 L440.9,207.4 L442.3,209.4 L443.7,211.4 L445.2,213.4 L446.8,215.4 L448.4,217.3 L450.1,219.1 L451.8,220.9 L453.5,222.7 L455.3,224.4 L457.2,226.1 L459.0,227.7 L460.9,229.3 L462.9,230.8 L464.9,232.3 L466.9,233.7 L469.0,235.1 L471.0,236.5 L473.2,237.8 L475.3,239.1 L477.4,240.3 L479.6,241.6 L481.8,242.8 L484.0,243.9 L486.3,245.1 L488.5,246.2 L490.8,247.3 L493.0,248.4 L495.3,249.5 L497.6,250.6 L499.9,251.6 L502.2,252.6 L504.5,253.7 L506.8,254.6 L509.1,255.6 L511.4,256.6 L513.7,257.5 L516.1,258.5 L518.4,259.4 L520.7,260.3 L523.1,261.2 L525.4,262.1 L527.8,262.9 L530.2,263.8 L532.5,264.6 L534.9,265.4 L537.3,266.3 L539.7,267.0 L542.1,267.8 L544.4,268.6 L546.8,269.4 L549.2,270.1 L551.6,270.8 L554.0,271.6 L556.5,272.3 L558.9,273.0 L561.3,273.6 L563.7,274.3 L566.1,275.0 L568.6,275.6 L571.0,276.3 L573.4,276.9 L575.8,277.5 L578.3,278.1 L580.7,278.7 L583.2,279.3 L585.6,279.9 L588.0,280.4 L590.5,281.0 L592.9,281.5 L595.4,282.0 L597.8,282.6 L600.3,283.1 L602.7,283.6 L605.2,284.1 L607.6,284.6 L610.1,285.1 L612.5,285.5 L615.0,286.0 L617.4,286.5 L619.9,286.9 L622.3,287.4 L624.8,287.8 L627.2,288.2 L629.7,288.6 L632.1,289.0 L634.6,289.4 L637.0,289.8 L639.5,290.2 L641.9,290.6 L644.4,291.0 L646.9,291.3 L649.3,291.7 L651.8,292.0 L654.2,292.4 L656.7,292.7 L659.2,293.0 L661.6,293.4 L664.1,293.7 L666.5,294.0 L669.0,294.3 L671.5,294.6 L673.9,294.9 L676.4,295.1 L678.9,295.4 L681.3,295.7 L683.8,296.0 L686.3,296.2 L688.7,296.5 L691.2,296.7 L693.7,297.0 L696.1,297.2 L698.6,297.4 L701.1,297.7 L703.5,297.9 L706.0,298.1 L708.5,298.3 L711.0,298.5 L713.4,298.7 L715.9,298.9 L718.4,299.1 L720.8,299.3 L723.3,299.5 L725.8,299.7 L728.3,299.8 L730.8,300.0 L733.2,300.2 L735.7,300.3 L738.2,300.5 L740.7,300.6 L743.1,300.8 L745.6,300.9 L748.1,301.1 L750.6,301.2 L753.1,301.4 L755.6,301.5 L758.0,301.6 L760.5,301.8 L763.0,301.9 L765.5,302.0 L768.0,302.1 L770.5,302.3 L772.9,302.4 L775.4,302.5 L777.9,302.6 L780.4,302.7 L782.9,302.8 L785.4,302.9 L787.9,303.0 L790.4,303.1 L792.9,303.2 L795.4,303.3 L797.8,303.4 L800.3,303.5 L802.8,303.6 L805.3,303.7 L807.8,303.8 L810.3,303.9 L812.8,303.9 L815.3,304.0 L817.8,304.1 L820.3,304.2 L822.8,304.3 L825.3,304.4 L827.8,304.5 L830.3,304.5 L832.8,304.6 L835.3,304.7 L837.8,304.8 L840.3,304.9 L842.8,304.9 L845.3,305.0 L847.8,305.1 L850.3,305.2 L852.8,305.3 L855.3,305.4 L857.9,305.4 L860.4,305.5 L862.9,305.6 L865.4,305.7 L867.9,305.8 L870.4,305.9 L872.9,306.0 L875.4,306.0 L877.9,306.1 L880.4,306.2 L883.0,306.3 L885.5,306.4 L888.0,306.5 L890.5,306.6 L893.0,306.7 L895.5,306.8 L898.1,306.9 L900.6,307.0 L903.1,307.2 L905.6,307.3 L908.1,307.4 L910.7,307.5 L913.2,307.6 L915.7,307.7 L918.2,307.9 L920.7,308.0 L923.3,308.1 L925.8,308.3 L928.3,308.4 L930.8,308.5 L933.4,308.7 L935.9,308.8 L938.4,309.0 L940.9,309.1 L943.5,309.3 L946.0,309.5 L948.5,309.6 L951.1,309.8 L953.6,310.0 L956.1,310.2 L958.7,310.3 L961.2,310.5 L963.7,310.7 L966.3,310.9 L968.8,311.1 L971.3,311.3 L973.9,311.5 L976.4,311.7 L978.9,312.0 L981.5,312.2 L984.0,312.4 L986.6,312.7 L989.1,312.9 L991.6,313.2 L994.2,313.4 L996.7,313.7 L999.2,314.0 L1001.8,314.3 L1004.3,314.6 L1006.8,314.9 L1009.3,315.2 L1011.8,315.6 L1014.3,316.0 L1016.8,316.4 L1019.3,316.8 L1021.7,317.2 L1024.2,317.6 L1026.6,318.1 L1029.0,318.6 L1031.5,319.1 L1033.9,319.7 L1036.3,320.2 L1038.6,320.8 L1041.0,321.4 L1043.4,322.1 L1045.7,322.8 L1048.0,323.5 L1050.3,324.2 L1052.6,325.0 L1054.8,325.8 L1057.1,326.7 L1059.3,327.6 L1061.5,328.5 L1063.6,329.4 L1065.8,330.4 L1067.9,331.5 L1070.0,332.5 L1072.1,333.7 L1074.1,334.8 L1076.2,336.0 L1078.1,337.3 L1080.1,338.6 L1082.1,339.9 L1084.0,341.3 L1085.8,342.7 L1087.7,344.2 L1089.5,345.8 L1091.3,347.3 L1093.1,349.0 L1094.8,350.6 L1096.5,352.4 L1098.1,354.1 L1099.8,355.9 L1101.4,357.8 L1103.0,359.7 L1104.5,361.6 L1106.1,363.6 L1107.6,365.6 L1109.1,367.6 L1110.5,369.6 L1112.0,371.7 L1113.4,373.8 L1114.7,376.0 L1116.1,378.1 L1117.4,380.3 L1118.8,382.5 L1120.1,384.8 L1121.3,387.0 L1122.6,389.3 L1123.8,391.6 L1125.0,393.9 L1126.2,396.2 L1127.4,398.5 L1128.6,400.8 L1129.7,403.2 L1130.8,405.5 L1132.0,407.9 L1133.1,410.3 L1134.1,412.6 L1135.2,415.0 L1136.2,417.4 L1137.3,419.7 L1138.3,422.1 L1139.3,424.5 L1140.3,426.8 L1141.3,429.2 L1142.2,431.6 L1143.2,433.9 L1144.1,436.3 L1145.1,438.7 L1146.0,441.0 L1146.9,443.4 L1147.8,445.8 L1148.6,448.1 L1149.5,450.5 L1150.4,452.9 L1151.2,455.2 L1152.0,457.6 L1152.8,460.0 L1153.7,462.3 L1154.5,464.7 L1155.2,467.1 L1156.0,469.4 L1156.8,471.8 L1157.5,474.2 L1158.3,476.5 L1159.0,478.9 L1159.8,481.3 L1160.5,483.7 L1161.2,486.0 L1161.9,488.4 L1162.6,490.8 L1163.3,493.2 L1163.9,495.5 L1164.6,497.9 L1165.3,500.3 L1165.9,502.7 L1166.6,505.0 L1167.2,507.4 L1167.8,509.8 L1168.5,512.2 L1169.1,514.6 L1169.7,517.0 L1170.3,519.3 L1170.9,521.7 L1171.5,524.1 L1172.1,526.5 L1172.7,528.9 L1173.3,531.3 L1173.8,533.7 L1174.4,536.1 L1175.0,538.5 L1175.5,540.9 L1176.1,543.2 L1176.6,545.6 L1177.2,548.0 L1177.7,550.4 L1178.2,552.8 L1178.8,555.3 L1179.3,557.7 L1179.8,560.1 L1180.4,562.5 L1180.9,564.9 L1181.4,567.3 L1181.9,569.7 L1182.4,572.1 L1182.9,574.5 L1183.5,577.0 L1184.0,579.4 L1184.5,581.8 L1185.0,584.2 L1185.5,586.7 L1186.0,589.1 L1186.5,591.5 L1187.0,593.9 L1187.5,596.4 L1188.0,598.8 L1188.5,601.2 L1189.0,603.7 L1189.5,606.1 L1190.0,608.5 L1190.4,611.0 L1190.9,613.4 L1191.4,615.9 L1191.9,618.3 L1192.4,620.7 L1192.9,623.2 L1193.4,625.6 L1193.8,628.1 L1194.3,630.5 L1194.8,633.0 L1195.3,635.4 L1195.8,637.9 L1196.2,640.3 L1196.7,642.8 L1197.2,645.2 L1197.7,647.7 L1198.1,650.2 L1198.6,652.6 L1199.1,655.1 L1199.6,657.5 L1200.0,660.0 L1200.5,662.4 L1201.0,664.9 L1201.4,667.4 L1201.9,669.8 L1202.4,672.3 L1202.9,674.7 L1203.3,677.2 L1203.8,679.7 L1204.3,682.1 L1204.7,684.6 L1205.2,687.1 L1205.7,689.5 L1206.2,692.0 L1206.6,694.4 L1207.1,696.9 L1207.6,699.4 L1208.0,701.8 L1208.5,704.3 L1209.0,706.8 L1209.5,709.2 L1209.9,711.7 L1210.4,714.2 L1210.9,716.6 L1211.3,719.1 L1211.8,721.6 L1212.3,724.0 L1212.8,726.5 L1213.3,729.0 L1213.7,731.4 L1214.2,733.9 L1214.7,736.4 L1215.2,738.8 L1215.6,741.3 L1216.1,743.8 L1216.6,746.2 L1217.1,748.7 L1217.6,751.1 L1218.1,753.6 L1218.6,756.1 L1219.0,758.5 L1219.5,761.0 L1220.0,763.4 L1220.5,765.9 L1221.0,768.4 L1221.5,770.8 L1222.0,773.3 L1222.5,775.7 L1223.0,778.2 L1223.5,780.6 L1224.0,783.1 L1224.5,785.6 L1225.0,788.0 L1225.5,790.5 L1226.0,792.9 L1226.5,795.4 L1227.1,797.8 L1227.6,800.3 L1228.1,802.7 L1228.6,805.2 L1229.1,807.6 L1229.6,810.1 L1230.2,812.5 L1230.7,814.9 L1231.2,817.4 L1231.7,819.8 L1232.3,822.3 L1232.8,824.7 L1233.3,827.2 L1233.9,829.6 L1234.4,832.0 L1234.9,834.5 L1235.5,836.9 L1236.0,839.4 L1236.6,841.8 L1237.1,844.2 L1237.6,846.7 L1238.2,849.1 L1238.7,851.5 L1239.3,854.0 L1239.8,856.4 L1240.4,858.8 L1240.9,861.3 L1241.5,863.7 L1242.0,866.1 L1242.6,868.6 L1243.2,871.0 L1243.7,873.4 L1244.3,875.9 L1244.9,878.3 L1245.4,880.7 L1246.0,883.1 L1246.6,885.6 L1247.1,888.0 L1247.7,890.4 L1248.3,892.8 L1248.8,895.3 L1249.4,897.7 L1250.0,900.1 L1250.6,902.5 L1251.1,905.0 L1251.7,907.4 L1252.3,909.8 L1252.9,912.2 L1253.5,914.6 L1254.1,917.1 L1254.7,919.5 L1255.2,921.9 L1255.8,924.3 L1256.4,926.7 L1257.0,929.2 L1257.6,931.6 L1258.2,934.0 L1258.8,936.4 L1259.4,938.8 L1260.0,941.2 L1260.6,943.6 L1261.2,946.1 L1261.8,948.5 L1262.4,950.9 L1263.0,953.3 L1263.6,955.7 L1264.3,958.1 L1264.9,960.5 L1265.5,962.9 L1266.1,965.4 L1266.7,967.8 L1267.4,970.2 L1268.0,972.6 L1268.6,975.0 L1269.3,977.4 L1269.9,979.8 L1270.6,982.2 L1271.3,984.6 L1272.0,986.9 L1272.7,989.3 L1273.4,991.7 L1274.2,994.1 L1274.9,996.5 L1275.7,998.8 L1276.5,1001.2 L1277.3,1003.5 L1278.1,1005.9 L1279.0,1008.2 L1279.9,1010.6 L1280.8,1012.9 L1281.7,1015.2 L1282.6,1017.5 L1283.6,1019.8 L1284.6,1022.1 L1285.6,1024.4 L1286.7,1026.7 L1287.7,1029.0 L1288.9,1031.3 L1290.0,1033.5 L1291.2,1035.8 L1292.4,1038.0 L1293.6,1040.2 L1294.9,1042.4 L1296.2,1044.6 L1297.5,1046.8 L1298.9,1049.0 L1300.3,1051.1 L1301.8,1053.3 L1303.2,1055.3 L1304.7,1057.4 L1306.2,1059.5 L1307.8,1061.5 L1309.4,1063.5 L1311.0,1065.4 L1312.6,1067.4 L1314.3,1069.3 L1316.0,1071.1 L1317.8,1073.0 L1319.5,1074.7 L1321.3,1076.5 L1323.2,1078.2 L1325.0,1079.9 L1326.9,1081.5 L1328.8,1083.1 L1330.7,1084.6 L1332.7,1086.1 L1334.7,1087.6 L1336.7,1089.0 L1338.7,1090.4 L1340.8,1091.7 L1342.9,1093.1 L1345.0,1094.3 L1347.1,1095.6 L1349.2,1096.8 L1351.4,1098.0 L1353.5,1099.2 L1355.7,1100.3 L1357.9,1101.4 L1360.2,1102.5 L1362.4,1103.6 L1364.7,1104.6 L1366.9,1105.7 L1369.2,1106.7 L1371.5,1107.6 L1373.8,1108.6 L1376.1,1109.6 L1378.4,1110.5 L1380.8,1111.4 L1383.1,1112.3 L1385.5,1113.2 L1387.8,1114.0 L1390.2,1114.9 L1392.5,1115.7 L1394.9,1116.6 L1397.3,1117.4 L1399.6,1118.2 L1402.0,1119.0 L1404.4,1119.8 L1406.7,1120.6 L1409.1,1121.4 L1411.5,1122.2 L1413.9,1123.0 L1416.2,1123.8 L1418.6,1124.6 L1421.0,1125.3 L1423.4,1126.1 L1425.8,1126.8 L1428.2,1127.6 L1430.6,1128.3 L1432.9,1129.1 L1435.3,1129.8 L1437.7,1130.5 L1440.1,1131.3 L1442.5,1132.0 L1444.9,1132.7 L1447.3,1133.4 L1449.7,1134.1 L1452.1,1134.8 L1454.5,1135.5 L1456.9,1136.2 L1459.3,1136.9 L1461.7,1137.6 L1464.1,1138.2 L1466.5,1138.9 L1468.9,1139.6 L1471.3,1140.3 L1473.7,1140.9 L1476.1,1141.6 L1478.5,1142.2 L1481.0,1142.9 L1483.4,1143.5 L1485.8,1144.2 L1488.2,1144.8 L1490.6,1145.5 L1493.0,1146.1 L1495.4,1146.7 L1497.8,1147.4 L1500.3,1148.0 L1502.7,1148.6 L1505.1,1149.3 L1507.5,1149.9 L1509.9,1150.5 L1512.3,1151.1 L1514.8,1151.7 L1517.2,1152.3 L1519.6,1153.0 L1522.0,1153.6 L1524.4,1154.2 L1526.9,1154.8 L1529.3,1155.4 L1531.7,1156.0 L1534.1,1156.6 L1536.5,1157.2 L1539.0,1157.8 L1541.4,1158.4 L1543.8,1159.0 L1546.2,1159.6 L1548.7,1160.2 L1551.1,1160.8 L1553.5,1161.4 L1555.9,1162.0 L1558.4,1162.6 L1560.8,1163.2 L1563.2,1163.8 L1565.6,1164.4 L1568.1,1164.9 L1570.5,1165.5 L1572.9,1166.1 L1575.3,1166.7 L1577.8,1167.3 L1580.2,1167.9 L1582.6,1168.5 L1585.0,1169.1 L1587.4,1169.7 L1589.9,1170.3 L1592.3,1170.9 L1594.7,1171.5 L1597.1,1172.1 L1599.6,1172.7 L1602.0,1173.3 L1604.4,1173.9 L1606.8,1174.6 L1609.3,1175.2 L1611.7,1175.8 L1614.1,1176.4 L1616.5,1177.0 L1618.9,1177.6 L1621.4,1178.2 L1623.8,1178.9 L1626.2,1179.5 L1628.6,1180.1 L1631.0,1180.7 L1633.4,1181.4 L1635.9,1182.0 L1638.3,1182.6 L1640.7,1183.2 L1643.1,1183.9 L1645.5,1184.5 L1648.0,1185.1 L1650.4,1185.8 L1652.8,1186.4 L1655.2,1187.0 L1657.6,1187.7 L1660.0,1188.3 L1662.5,1188.9 L1664.9,1189.6 L1667.3,1190.2 L1669.7,1190.8 L1672.1,1191.5 L1674.5,1192.1 L1677.0,1192.7 L1679.4,1193.3 L1681.8,1194.0 L1684.2,1194.6 L1686.6,1195.2 L1689.0,1195.9 L1691.5,1196.5 L1693.9,1197.1 L1696.3,1197.7 L1698.7,1198.4 L1701.1,1199.0 L1703.6,1199.6 L1706.0,1200.2 L1708.4,1200.8 L1710.8,1201.4 L1713.2,1202.1 L1715.7,1202.7 L1718.1,1203.3 L1720.5,1203.9 L1722.9,1204.5 L1725.4,1205.1 L1727.8,1205.7 L1730.2,1206.3 L1732.6,1206.9 L1735.0,1207.5 L1737.5,1208.1 L1739.9,1208.7 L1742.3,1209.2 L1744.8,1209.8 L1747.2,1210.4 L1749.6,1211.0 L1752.0,1211.5 L1754.5,1212.1 L1756.9,1212.7 L1759.3,1213.2 L1761.8,1213.8 L1764.2,1214.4 L1766.6,1214.9 L1769.1,1215.5 L1771.5,1216.0 L1773.9,1216.5 L1776.4,1217.1 L1778.8,1217.6 L1781.2,1218.1 L1783.7,1218.7 L1786.1,1219.2 L1788.6,1219.7 L1791.0,1220.2 L1793.5,1220.7 L1795.9,1221.2 L1798.3,1221.7 L1800.8,1222.2 L1803.2,1222.7 L1805.7,1223.2 L1808.1,1223.6 L1810.6,1224.1 L1813.0,1224.6 L1815.5,1225.0 L1817.9,1225.5 L1820.4,1225.9 L1822.9,1226.4 L1825.3,1226.8 L1827.8,1227.3 L1830.2,1227.7 L1832.7,1228.1 L1835.1,1228.5 L1837.6,1229.0 L1840.1,1229.4 L1842.5,1229.8 L1845.0,1230.2 L1847.5,1230.6 L1849.9,1231.0 L1852.4,1231.4 L1854.9,1231.8 L1857.3,1232.1 L1859.8,1232.5 L1862.3,1232.9 L1864.7,1233.3 L1867.2,1233.6 L1869.7,1234.0 L1872.1,1234.4 L1874.6,1234.7 L1877.1,1235.1 L1879.6,1235.4 L1882.0,1235.8 L1884.5,1236.1 L1887.0,1236.4 L1889.5,1236.8 L1891.9,1237.1 L1894.4,1237.4 L1896.9,1237.7 L1899.4,1238.1 L1901.9,1238.4 L1904.3,1238.7 L1906.8,1239.0 L1909.3,1239.3 L1911.8,1239.6 L1914.3,1239.9 L1916.8,1240.2 L1919.2,1240.5 L1921.7,1240.8 L1924.2,1241.1 L1926.7,1241.3 L1929.2,1241.6 L1931.7,1241.9 L1934.2,1242.2 L1936.6,1242.4 L1939.1,1242.7 L1941.6,1243.0 L1944.1,1243.2 L1946.6,1243.5 L1949.1,1243.7 L1951.6,1244.0 L1954.1,1244.2 L1956.6,1244.5 L1959.1,1244.7 L1961.5,1245.0 L1964.0,1245.2 L1966.5,1245.4 L1969.0,1245.7 L1971.5,1245.9 L1974.0,1246.1 L1976.5,1246.4 L1979.0,1246.6 L1981.5,1246.8 L1984.0,1247.0 L1986.5,1247.2 L1989.0,1247.5 L1991.5,1247.7 L1994.0,1247.9 L1996.5,1248.1 L1999.0,1248.3 L2001.5,1248.5 L2004.0,1248.7 L2006.5,1248.9 L2009.0,1249.1 L2011.5,1249.3 L2013.9,1249.5 L2016.4,1249.7 L2018.9,1249.9 L2021.4,1250.1 L2023.9,1250.3 L2026.4,1250.4 L2028.9,1250.6 L2031.4,1250.8 L2033.9,1251.0 L2036.4,1251.2 L2038.9,1251.4 L2041.4,1251.5 L2043.9,1251.7 L2046.4,1251.9 L2048.9,1252.1 L2051.4,1252.2 L2053.9,1252.4 L2056.4,1252.6 L2058.9,1252.7 L2061.4,1252.9 L2063.9,1253.1 L2066.4,1253.2 L2068.9,1253.4 L2071.4,1253.6 L2073.9,1253.7 L2076.4,1253.9 L2078.9,1254.0 L2081.4,1254.2 L2083.9,1254.4 L2086.4,1254.5 L2088.9,1254.7 L2091.4,1254.8 L2093.9,1255.0 L2096.4,1255.2 L2098.9,1255.3 L2101.4,1255.5 L2103.9,1255.6 L2106.4,1255.8 L2108.9,1255.9 L2111.3,1256.1 L2113.8,1256.2 L2116.3,1256.4 L2118.8,1256.5 L2121.3,1256.7 L2123.8,1256.8 L2126.3,1257.0 L2128.8,1257.2 L2131.3,1257.3 L2133.8,1257.5 L2136.3,1257.6 L2138.8,1257.8 L2141.3,1257.9 L2143.8,1258.1 L2146.2,1258.2 L2148.7,1258.4 L2151.2,1258.5 L2153.7,1258.7 L2156.2,1258.8 L2158.7,1259.0 L2161.2,1259.1 L2163.7,1259.3 L2166.1,1259.5 L2168.6,1259.6 L2171.1,1259.8 L2173.6,1259.9 L2176.1,1260.1 L2178.6,1260.2 L2181.1,1260.4 L2183.5,1260.6" stroke="#0000ff" stroke-width="6.6"/>
<path d="M362.9,112.4 L365.3,110.8 L367.7,109.8 L370.0,109.3 L372.3,109.3 L374.6,109.6 L376.9,110.3 L379.1,111.2 L381.4,112.2 L383.7,113.3 L385.9,114.4 L388.2,115.5 L390.5,116.5 L392.9,117.4 L395.2,118.2 L397.6,119.0 L400.0,119.6 L402.4,120.2 L404.8,120.7 L407.3,121.1 L409.7,121.4 L412.2,121.7 L414.7,122.0 L417.2,122.2 L419.7,122.4 L422.2,122.5 L424.7,122.6 L427.2,122.7 L429.7,122.8 L432.2,122.8 L434.7,122.9 L437.2,122.9 L439.8,123.0 L442.3,123.0 L444.8,123.1 L447.3,123.2 L449.8,123.2 L452.3,123.3 L454.8,123.4 L457.3,123.4 L459.8,123.5 L462.3,123.6 L464.8,123.7 L467.3,123.7 L469.8,123.8 L472.3,123.9 L474.8,124.0 L477.3,124.0 L479.8,124.1 L482.3,124.2 L484.8,124.3 L487.3,124.4 L489.8,124.5 L492.3,124.5 L494.8,124.6 L497.3,124.7 L499.8,124.8 L502.3,124.9 L504.8,125.0 L507.3,125.0 L509.8,125.1 L512.2,125.2 L514.7,125.3 L517.2,125.4 L519.7,125.5 L522.2,125.6 L524.7,125.6 L527.2,125.7 L529.7,125.8 L532.2,125.9 L534.6,126.0 L537.1,126.0 L539.6,126.1 L542.1,126.2 L544.6,126.3 L547.1,126.3 L549.6,126.4 L552.0,126.5 L554.5,126.6 L557.0,126.6 L559.5,126.7 L562.0,126.8 L564.5,126.8 L567.0,126.9 L569.5,127.0 L571.9,127.0 L574.4,127.1 L576.9,127.1 L579.4,127.2 L581.9,127.2 L584.4,127.3 L586.9,127.3 L589.4,127.4 L591.8,127.4 L594.3,127.4 L596.8,127.5 L599.3,127.5 L601.8,127.5 L604.3,127.6 L606.8,127.6 L609.3,127.6 L611.8,127.7 L614.3,127.7 L616.7,127.7 L619.2,127.7 L621.7,127.7 L624.2,127.8 L626.7,127.8 L629.2,127.8 L631.7,127.8 L634.2,127.8 L636.7,127.8 L639.2,127.8 L641.7,127.9 L644.2,127.9 L646.7,127.9 L649.2,127.9 L651.7,127.9 L654.2,127.9 L656.7,127.9 L659.1,127.9 L661.6,127.9 L664.1,127.9 L666.6,127.9 L669.1,127.9 L671.6,127.9 L674.1,127.9 L676.6,127.9 L679.1,127.9 L681.6,127.9 L684.1,127.9 L686.6,127.9 L689.1,127.9 L691.6,127.9 L694.1,127.9 L696.6,127.9 L699.1,127.9 L701.6,127.9 L704.1,127.9 L706.6,127.9 L709.1,127.9 L711.6,127.9 L714.1,127.9 L716.6,127.9 L719.1,127.9 L721.6,127.9 L724.1,127.9 L726.6,127.9 L729.1,127.9 L731.6,127.9 L734.1,127.9 L736.6,127.9 L739.2,127.9 L741.7,127.9 L744.2,127.9 L746.7,127.9 L749.2,127.9 L751.7,128.0 L754.2,128.0 L756.7,128.0 L759.2,128.0 L761.7,128.0 L764.2,128.0 L766.7,128.0 L769.2,128.1 L771.7,128.1 L774.2,128.1 L776.7,128.1 L779.2,128.2 L781.7,128.2 L784.2,128.2 L786.8,128.3 L789.3,128.3 L791.8,128.4 L794.3,128.4 L796.8,128.5 L799.3,128.5 L801.8,128.6 L804.3,128.7 L806.8,128.7 L809.3,128.8 L811.8,128.9 L814.3,129.0 L816.8,129.1 L819.3,129.2 L821.8,129.3 L824.3,129.4 L826.8,129.6 L829.3,129.7 L831.8,129.8 L834.3,130.0 L836.8,130.1 L839.3,130.3 L841.8,130.5 L844.2,130.7 L846.7,130.8 L849.2,131.0 L851.7,131.3 L854.2,131.5 L856.7,131.7 L859.2,131.9 L861.6,132.2 L864.1,132.4 L866.6,132.7 L869.1,133.0 L871.6,133.3 L874.0,133.6 L876.5,133.9 L879.0,134.2 L881.4,134.5 L883.9,134.9 L886.4,135.2 L888.8,135.6 L891.3,136.0 L893.8,136.4 L896.2,136.8 L898.7,137.2 L901.1,137.7 L903.6,138.1 L906.0,138.6 L908.5,139.1 L910.9,139.6 L913.3,140.2 L915.7,140.7 L918.1,141.3 L920.5,141.9 L922.9,142.6 L925.2,143.2 L927.6,143.9 L929.9,144.6 L932.3,145.4 L934.6,146.2 L936.9,147.0 L939.2,147.8 L941.5,148.7 L943.7,149.7 L945.9,150.6 L948.2,151.6 L950.4,152.6 L952.5,153.7 L954.7,154.8 L956.8,156.0 L958.9,157.2 L961.0,158.4 L963.1,159.7 L965.2,161.0 L967.2,162.4 L969.2,163.9 L971.1,165.3 L973.1,166.9 L975.0,168.5 L976.9,170.1 L978.7,171.8 L980.6,173.5 L982.4,175.3 L984.2,177.1 L985.9,178.9 L987.7,180.8 L989.4,182.7 L991.1,184.7 L992.8,186.6 L994.4,188.6 L996.1,190.6 L997.7,192.7 L999.3,194.7 L1000.9,196.8 L1002.5,198.9 L1004.0,201.0 L1005.6,203.1 L1007.1,205.2 L1008.6,207.3 L1010.1,209.4 L1011.6,211.5 L1013.1,213.5 L1014.6,215.6 L1016.1,217.7 L1017.6,219.7 L1019.0,221.8 L1020.5,223.8 L1021.9,225.8 L1023.4,227.8 L1024.8,229.8 L1026.2,231.8 L1027.6,233.8 L1029.1,235.8 L1030.5,237.8 L1031.9,239.8 L1033.2,241.7 L1034.6,243.7 L1036.0,245.7 L1037.4,247.7 L1038.7,249.6 L1040.1,251.6 L1041.5,253.6 L1042.8,255.6 L1044.1,257.7 L1045.5,259.7 L1046.8,261.7 L1048.1,263.8 L1049.4,265.8 L1050.7,267.9 L1052.0,270.0 L1053.3,272.1 L1054.6,274.3 L1055.8,276.4 L1057.1,278.6 L1058.4,280.8 L1059.6,283.0 L1060.9,285.2 L1062.2,287.4 L1063.5,289.6 L1064.7,291.8 L1066.0,294.0 L1067.3,296.3 L1068.6,298.5 L1069.9,300.7 L1071.2,302.9 L1072.5,305.1 L1073.9,307.3 L1075.2,309.4 L1076.6,311.6 L1078.0,313.7 L1079.4,315.9 L1080.8,318.0 L1082.2,320.1 L1083.7,322.1 L1085.2,324.2 L1086.7,326.2 L1088.3,328.1 L1089.8,330.1 L1091.4,332.0 L1093.1,333.9 L1094.7,335.7 L1096.4,337.5 L1098.1,339.3 L1099.9,341.0 L1101.7,342.7 L1103.5,344.3 L1105.4,345.8 L1107.3,347.4 L1109.3,348.8 L1111.3,350.3 L1113.3,351.6 L1115.4,353.0 L1117.5,354.3 L1119.7,355.5 L1121.8,356.7 L1124.0,357.9 L1126.2,359.1 L1128.5,360.2 L1130.7,361.3 L1133.0,362.3 L1135.3,363.4 L1137.6,364.4 L1139.9,365.4 L1142.2,366.3 L1144.6,367.3 L1146.9,368.2 L1149.3,369.2 L1151.6,370.1 L1154.0,371.0 L1156.3,371.9 L1158.7,372.9 L1161.0,373.8 L1163.3,374.7 L1165.7,375.5 L1168.0,376.4 L1170.4,377.3 L1172.7,378.2 L1175.1,379.1 L1177.4,379.9 L1179.8,380.8 L1182.1,381.7 L1184.5,382.5 L1186.8,383.4 L1189.2,384.2 L1191.5,385.0 L1193.9,385.9 L1196.2,386.7 L1198.6,387.5 L1200.9,388.4 L1203.3,389.2 L1205.6,390.0 L1208.0,390.8 L1210.3,391.6 L1212.7,392.4 L1215.0,393.2 L1217.4,394.0 L1219.7,394.8 L1222.1,395.6 L1224.4,396.4 L1226.8,397.2 L1229.1,398.0 L1231.5,398.8 L1233.9,399.6 L1236.2,400.3 L1238.6,401.1 L1241.0,401.9 L1243.3,402.7 L1245.7,403.4 L1248.1,404.2 L1250.4,405.0 L1252.8,405.7 L1255.2,406.5 L1257.6,407.3 L1259.9,408.0 L1262.3,408.8 L1264.7,409.5 L1267.1,410.3 L1269.5,411.0 L1271.8,411.8 L1274.2,412.6 L1276.6,413.3 L1279.0,414.1 L1281.4,414.8 L1283.8,415.6 L1286.1,416.3 L1288.5,417.1 L1290.9,417.8 L1293.3,418.6 L1295.7,419.3 L1298.1,420.0 L1300.5,420.8 L1302.9,421.5 L1305.2,422.3 L1307.6,423.0 L1310.0,423.8 L1312.4,424.5 L1314.8,425.3 L1317.2,426.0 L1319.6,426.8 L1322.0,427.5 L1324.4,428.3 L1326.7,429.0 L1329.1,429.8 L1331.5,430.5 L1333.9,431.3 L1336.3,432.0 L1338.7,432.8 L1341.1,433.5 L1343.4,434.3 L1345.8,435.1 L1348.2,435.8 L1350.6,436.6 L1353.0,437.4 L1355.3,438.1 L1357.7,438.9 L1360.1,439.7 L1362.5,440.4 L1364.8,441.2 L1367.2,442.0 L1369.6,442.7 L1372.0,443.5 L1374.3,444.3 L1376.7,445.1 L1379.1,445.9 L1381.4,446.7 L1383.8,447.5 L1386.2,448.3 L1388.5,449.0 L1390.9,449.8 L1393.2,450.6 L1395.6,451.4 L1397.9,452.2 L1400.3,453.1 L1402.6,453.9 L1405.0,454.7 L1407.4,455.5 L1409.7,456.3 L1412.1,457.1 L1414.4,457.9 L1416.8,458.7 L1419.1,459.5 L1421.4,460.3 L1423.8,461.2 L1426.1,462.0 L1428.5,462.8 L1430.8,463.6 L1433.2,464.4 L1435.5,465.2 L1437.9,466.0 L1440.2,466.8 L1442.6,467.6 L1444.9,468.5 L1447.3,469.3 L1449.6,470.1 L1452.0,470.9 L1454.3,471.7 L1456.7,472.5 L1459.0,473.3 L1461.4,474.1 L1463.7,474.9 L1466.1,475.7 L1468.4,476.5 L1470.8,477.3 L1473.1,478.0 L1475.5,478.8 L1477.8,479.6 L1480.2,480.4 L1482.5,481.2 L1484.9,481.9 L1487.3,482.7 L1489.6,483.5 L1492.0,484.3 L1494.4,485.0 L1496.7,485.8 L1499.1,486.5 L1501.5,487.3 L1503.9,488.0 L1506.2,488.8 L1508.6,489.5 L1511.0,490.2 L1513.4,491.0 L1515.8,491.7 L1518.1,492.4 L1520.5,493.1 L1522.9,493.8 L1525.3,494.5 L1527.7,495.2 L1530.1,495.9 L1532.5,496.6 L1534.9,497.3 L1537.3,498.0 L1539.7,498.6 L1542.1,499.3 L1544.5,500.0 L1546.9,500.6 L1549.3,501.3 L1551.8,501.9 L1554.2,502.5 L1556.6,503.2 L1559.0,503.8 L1561.4,504.4 L1563.8,505.0 L1566.2,505.6 L1568.7,506.2 L1571.1,506.8 L1573.5,507.4 L1575.9,507.9 L1578.3,508.5 L1580.8,509.1 L1583.2,509.6 L1585.6,510.1 L1588.0,510.7 L1590.4,511.2 L1592.9,511.8 L1595.3,512.3 L1597.7,512.9 L1600.1,513.5 L1602.5,514.1 L1604.9,514.8 L1607.3,515.5 L1609.6,516.3 L1612.0,517.1 L1614.4,517.9 L1616.7,518.7 L1619.1,519.5 L1621.5,520.3 L1623.9,521.0 L1626.3,521.6 L1628.7,522.1 L1631.2,522.7 L1633.6,523.1 L1636.1,523.6 L1638.5,523.9 L1641.0,524.3 L1643.5,524.6 L1645.9,524.9 L1648.4,525.2 L1650.9,525.5 L1653.4,525.7 L1655.9,526.0 L1658.4,526.2 L1660.9,526.5 L1663.4,526.7 L1665.8,527.0 L1668.3,527.3 L1670.8,527.6 L1673.2,528.0 L1675.7,528.4 L1678.1,528.8 L1680.6,529.3 L1683.0,529.8 L1685.4,530.5 L1687.8,531.2 L1690.2,532.0 L1692.5,532.8 L1694.9,533.7 L1697.2,534.6 L1699.6,535.5 L1702.0,536.3 L1704.3,537.1 L1706.7,537.8 L1709.1,538.5 L1711.6,539.1 L1714.0,539.6 L1716.4,540.1 L1718.9,540.6 L1721.3,541.0 L1723.8,541.4 L1726.2,541.7 L1728.7,542.0 L1731.2,542.3 L1733.7,542.6 L1736.1,542.8 L1738.6,543.1 L1741.1,543.3 L1743.6,543.6 L1746.1,543.8 L1748.6,544.1 L1751.0,544.4 L1753.5,544.7 L1756.0,545.0 L1758.5,545.3 L1760.9,545.7 L1763.4,546.1 L1765.9,546.5 L1768.3,546.9 L1770.8,547.4 L1773.2,547.8 L1775.7,548.3 L1778.1,548.8 L1780.6,549.3 L1783.0,549.8 L1785.4,550.3 L1787.9,550.8 L1790.3,551.3 L1792.8,551.8 L1795.2,552.3 L1797.7,552.9 L1800.1,553.4 L1802.5,553.9 L1805.0,554.4 L1807.4,554.9 L1809.9,555.4 L1812.3,555.9 L1814.8,556.4 L1817.2,556.8 L1819.7,557.3 L1822.1,557.8 L1824.6,558.3 L1827.0,558.7 L1829.5,559.2 L1831.9,559.6 L1834.4,560.1 L1836.9,560.5 L1839.3,560.9 L1841.8,561.4 L1844.2,561.8 L1846.7,562.3 L1849.2,562.7 L1851.6,563.1 L1854.1,563.5 L1856.6,563.9 L1859.0,564.4 L1861.5,564.8 L1863.9,565.2 L1866.4,565.6 L1868.9,566.0 L1871.3,566.4 L1873.8,566.9 L1876.3,567.3 L1878.7,567.7 L1881.2,568.1 L1883.7,568.5 L1886.1,568.9 L1888.6,569.3 L1891.1,569.7 L1893.5,570.2 L1896.0,570.6 L1898.4,571.0 L1900.9,571.4 L1903.4,571.8 L1905.8,572.3 L1908.3,572.7 L1910.8,573.1 L1913.2,573.5 L1915.7,574.0 L1918.1,574.4 L1920.6,574.9 L1923.1,575.3 L1925.5,575.7 L1928.0,576.2 L1930.4,576.6 L1932.9,577.1 L1935.3,577.6 L1937.8,578.0 L1940.2,578.5 L1942.7,579.0 L1945.1,579.4 L1947.6,579.9 L1950.0,580.4 L1952.5,580.9 L1954.9,581.4 L1957.4,581.8 L1959.8,582.3 L1962.3,582.8 L1964.7,583.3 L1967.2,583.8 L1969.6,584.3 L1972.1,584.8 L1974.5,585.4 L1976.9,585.9 L1979.4,586.4 L1981.8,586.9 L1984.3,587.4 L1986.7,587.9 L1989.1,588.5 L1991.6,589.0 L1994.0,589.5 L1996.5,590.1 L1998.9,590.6 L2001.3,591.1 L2003.8,591.7 L2006.2,592.2 L2008.6,592.8 L2011.1,593.3 L2013.5,593.9 L2015.9,594.4 L2018.4,595.0 L2020.8,595.6 L2023.2,596.1 L2025.7,596.7 L2028.1,597.3 L2030.5,597.8 L2032.9,598.4 L2035.4,599.0 L2037.8,599.6 L2040.2,600.1 L2042.7,600.7 L2045.1,601.3 L2047.5,601.9 L2049.9,602.5 L2052.4,603.1 L2054.8,603.7 L2057.2,604.3 L2059.6,604.9 L2062.1,605.5 L2064.5,606.1 L2066.9,606.7 L2069.3,607.3 L2071.7,607.9 L2074.2,608.5 L2076.6,609.1 L2079.0,609.7 L2081.4,610.3 L2083.9,610.9 L2086.3,611.5 L2088.7,612.2 L2091.1,612.8 L2093.5,613.4 L2095.9,614.0 L2098.4,614.6 L2100.8,615.3 L2103.2,615.9 L2105.6,616.5 L2108.0,617.2 L2110.4,617.8 L2112.9,618.4 L2115.3,619.1 L2117.7,619.7 L2120.1,620.3 L2122.5,621.0 L2124.9,621.6 L2127.3,622.3 L2129.8,622.9 L2132.2,623.5 L2134.6,624.2 L2137.0,624.8 L2139.4,625.5 L2141.8,626.1 L2144.2,626.8 L2146.6,627.4 L2149.1,628.1 L2151.5,628.7 L2153.9,629.4 L2156.3,630.1 L2158.7,630.7 L2161.1,631.4 L2163.5,632.0 L2165.9,632.7 L2168.3,633.3 L2170.8,634.0 L2173.2,634.7 L2175.6,635.3 L2178.0,636.0 L2180.4,636.7 L2182.8,637.3 L2185.2,638.0 L2187.6,638.6 L2190.0,639.3" stroke="#008000" stroke-width="6.8"/>
</g>
<g stroke="#000" fill="none" stroke-linecap="butt">
<rect x="312.9" y="34.6" width="1915.4" height="1423.7" stroke-width="7.2"/>
<line x1="280.9" y1="1458.3" x2="312.9" y2="1458.3" stroke-width="6.8"/>
<line x1="295.4" y1="1390.7" x2="312.9" y2="1390.7" stroke-width="6.8"/>
<line x1="280.9" y1="1323.1" x2="312.9" y2="1323.1" stroke-width="6.8"/>
<line x1="295.4" y1="1255.6" x2="312.9" y2="1255.6" stroke-width="6.8"/>
<line x1="280.9" y1="1188.0" x2="312.9" y2="1188.0" stroke-width="6.8"/>
<line x1="295.4" y1="1120.4" x2="312.9" y2="1120.4" stroke-width="6.8"/>
<line x1="280.9" y1="1052.8" x2="312.9" y2="1052.8" stroke-width="6.8"/>
<line x1="295.4" y1="985.3" x2="312.9" y2="985.3" stroke-width="6.8"/>
<line x1="280.9" y1="917.7" x2="312.9" y2="917.7" stroke-width="6.8"/>
<line x1="295.4" y1="850.1" x2="312.9" y2="850.1" stroke-width="6.8"/>
<line x1="280.9" y1="782.5" x2="312.9" y2="782.5" stroke-width="6.8"/>
<line x1="295.4" y1="715.0" x2="312.9" y2="715.0" stroke-width="6.8"/>
<line x1="280.9" y1="647.4" x2="312.9" y2="647.4" stroke-width="6.8"/>
<line x1="295.4" y1="579.8" x2="312.9" y2="579.8" stroke-width="6.8"/>
<line x1="280.9" y1="512.2" x2="312.9" y2="512.2" stroke-width="6.8"/>
<line x1="295.4" y1="444.7" x2="312.9" y2="444.7" stroke-width="6.8"/>
<line x1="280.9" y1="377.1" x2="312.9" y2="377.1" stroke-width="6.8"/>
<line x1="295.4" y1="309.5" x2="312.9" y2="309.5" stroke-width="6.8"/>
<line x1="280.9" y1="241.9" x2="312.9" y2="241.9" stroke-width="6.8"/>
<line x1="295.4" y1="174.4" x2="312.9" y2="174.4" stroke-width="6.8"/>
<line x1="280.9" y1="106.8" x2="312.9" y2="106.8" stroke-width="6.8"/>
<line x1="295.4" y1="39.2" x2="312.9" y2="39.2" stroke-width="6.8"/>
<line x1="403.2" y1="1458.3" x2="403.2" y2="1475.8" stroke-width="6.8"/>
<line x1="585.6" y1="1458.3" x2="585.6" y2="1490.3" stroke-width="6.8"/>
<line x1="768.0" y1="1458.3" x2="768.0" y2="1475.8" stroke-width="6.8"/>
<line x1="950.5" y1="1458.3" x2="950.5" y2="1490.3" stroke-width="6.8"/>
<line x1="1132.9" y1="1458.3" x2="1132.9" y2="1475.8" stroke-width="6.8"/>
<line x1="1315.3" y1="1458.3" x2="1315.3" y2="1490.3" stroke-width="6.8"/>
<line x1="1497.7" y1="1458.3" x2="1497.7" y2="1475.8" stroke-width="6.8"/>
<line x1="1680.2" y1="1458.3" x2="1680.2" y2="1490.3" stroke-width="6.8"/>
<line x1="1862.6" y1="1458.3" x2="1862.6" y2="1475.8" stroke-width="6.8"/>
<line x1="2045.0" y1="1458.3" x2="2045.0" y2="1490.3" stroke-width="6.8"/>
<line x1="2227.4" y1="1458.3" x2="2227.4" y2="1475.8" stroke-width="6.8"/>
</g>
<g>
<text transform="translate(230.02,1478.30) scale(1.0104,1.0472)" font-size="68">0</text>
<text transform="translate(190.14,1343.15) scale(1.0948,1.0472)" font-size="68">10</text>
<text transform="translate(193.06,1208.00) scale(1.0502,1.0472)" font-size="68">20</text>
<text transform="translate(193.44,1072.85) scale(1.0445,1.0472)" font-size="68">30</text>
<text transform="translate(195.24,937.70) scale(1.0170,1.0472)" font-size="68">40</text>
<text transform="translate(193.25,802.55) scale(1.0473,1.0472)" font-size="68">50</text>
<text transform="translate(193.62,667.40) scale(1.0417,1.0472)" font-size="68">60</text>
<text transform="translate(191.93,532.25) scale(1.0676,1.0472)" font-size="68">70</text>
<text transform="translate(193.80,397.10) scale(1.0389,1.0472)" font-size="68">80</text>
<text transform="translate(194.17,261.95) scale(1.0333,1.0472)" font-size="68">90</text>
<text transform="translate(160.24,126.80) scale(1.0212,1.0472)" font-size="68">100</text>
<text transform="translate(532.62,1561.00) scale(1.0254,1.0561)" font-size="68">100</text>
<text transform="translate(898.26,1561.00) scale(1.0356,1.0561)" font-size="68">200</text>
<text transform="translate(1263.47,1561.00) scale(1.0320,1.0561)" font-size="68">300</text>
<text transform="translate(1630.09,1561.00) scale(1.0142,1.0561)" font-size="68">400</text>
<text transform="translate(1992.99,1561.00) scale(1.0338,1.0561)" font-size="68">500</text>
<text transform="translate(1956.01,245.50) scale(0.9991,1.0552)" font-size="68">MSNs</text>
<text transform="translate(1658.79,706.40) scale(1.0128,1.0552)" font-size="68">Py@MSNs-HTCC</text>
<text transform="translate(1976.19,1213.00) scale(1.0207,1.0507)" font-size="68">HTCC</text>
<text transform="translate(2015.43,1351.10) scale(0.9863,1.0440)" font-size="68">Py</text>
<text transform="translate(990.55,1656.10) scale(1.0276,1.0530)" font-size="68">Temperature</text>
<text transform="translate(1395.95,1656.10) scale(1.0611,1.0530)" font-size="68">(</text>
<text transform="translate(1419.37,1619.40) scale(0.9529,1.0000)" font-size="40">o</text>
<text transform="translate(1438.94,1656.10) scale(1.0776,1.0530)" font-size="68">C</text>
<text transform="translate(1487.62,1656.10) scale(1.0337,1.0530)" font-size="68">)</text>
<text transform="translate(96.70,1009.08) rotate(-90) scale(1.0587,1.0620)" font-size="68">Weight</text>
<text transform="translate(96.70,768.65) rotate(-90) scale(0.9917,1.0620)" font-size="68">loss</text>
<text transform="translate(96.70,646.21) rotate(-90) scale(1.0506,1.0620)" font-size="68">(%)</text>
</g>
</g>

</svg>
</body>
</html>
